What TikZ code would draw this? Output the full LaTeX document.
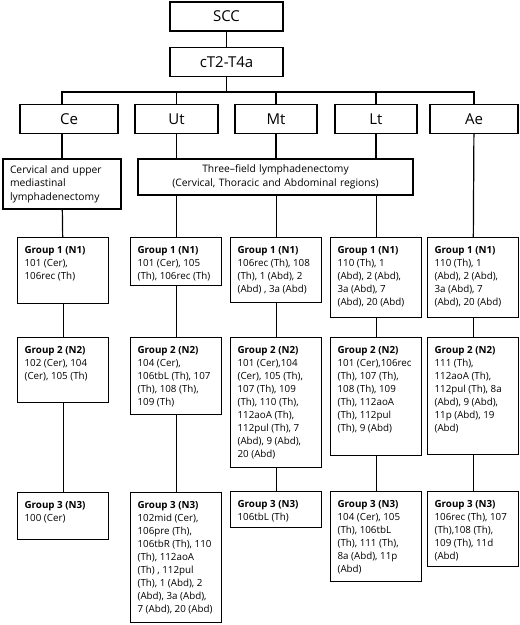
\documentclass[tikz,border=0pt]{standalone}
\usepackage{fontspec}
\setmainfont{Open Sans}
\usetikzlibrary{positioning}

\newcommand{\grpbox}[3]{\parbox[t][#1pt][t]{91pt}{\raggedright\leftskip=7pt
  \fontsize{9.8}{13}\selectfont\vspace*{8.5pt}\textbf{#2}\\#3}}

\begin{document}
\begin{tikzpicture}[x=1pt,y=-1pt,line width=1.2pt]
  \tikzstyle{hd}=[draw,font=\fontsize{15}{18}\selectfont,minimum height=29pt,inner sep=0pt]
  \tikzstyle{grp}=[draw,anchor=north west,inner sep=0pt]
  \tikzstyle{lym}=[draw,font=\fontsize{10.3}{13.5}\selectfont,inner xsep=7pt,inner ysep=0pt]

  \useasboundingbox (0,0) rectangle (520,625);

  \node[hd,minimum width=113pt] (scc) at (226.5,16.5) {SCC};
  \node[hd,minimum width=113pt,below=15pt of scc] (ct) {cT2-T4a};
  \coordinate (bar) at (226.5,92);

  \node[hd,minimum width=98pt] (ce) at (69,119)  {Ce};
  \node[hd,minimum width=83pt] (ut) at (176.5,119) {Ut};
  \node[hd,minimum width=82pt] (mt) at (276,119) {Mt};
  \node[hd,minimum width=82pt] (lt) at (376,119) {Lt};
  \node[hd,minimum width=88pt] (ae) at (474,119) {Ae};

  \node[lym,text width=104pt,align=left,minimum height=50pt] (lc) at (62,184)
    {Cervical and upper\\mediastinal\\lymphadenectomy};
  \node[lym,text width=261pt,align=center,minimum height=36pt] (tf) at (275.5,177)
    {Three–field lymphadenectomy\\(Cervical, Thoracic and Abdominal regions)};

  % group 1
  \node[grp] (ceg1) at (17,237)  {\grpbox{66}{Group 1 (N1)}{101 (Cer),\\106rec (Th)}};
  \node[grp] (utg1) at (130,237) {\grpbox{48}{Group 1 (N1)}{101 (Cer), 105\\(Th), 106rec (Th)}};
  \node[grp] (mtg1) at (230,237) {\grpbox{65}{Group 1 (N1)}{106rec (Th), 108\\(Th), 1 (Abd), 2\\(Abd) , 3a (Abd)}};
  \node[grp] (ltg1) at (330,237) {\grpbox{80}{Group 1 (N1)}{110 (Th), 1\\(Abd), 2 (Abd),\\3a (Abd), 7\\(Abd), 20 (Abd)}};
  \node[grp] (aeg1) at (427,237) {\grpbox{80}{Group 1 (N1)}{110 (Th), 1\\(Abd), 2 (Abd),\\3a (Abd), 7\\(Abd), 20 (Abd)}};

  % group 2
  \node[grp] (ceg2) at (17,337)  {\grpbox{65}{Group 2 (N2)}{102 (Cer), 104\\(Cer), 105 (Th)}};
  \node[grp] (utg2) at (130,337) {\grpbox{77}{Group 2 (N2)}{104 (Cer),\\106tbL (Th), 107\\(Th), 108 (Th),\\109 (Th)}};
  \node[grp] (mtg2) at (230,337) {\grpbox{130}{Group 2 (N2)}{101 (Cer),104\\(Cer), 105 (Th),\\107 (Th), 109\\(Th), 110 (Th),\\112aoA (Th),\\112pul (Th), 7\\(Abd), 9 (Abd),\\20 (Abd)}};
  \node[grp] (ltg2) at (330,337) {\grpbox{118}{Group 2 (N2)}{101 (Cer),106rec\\(Th), 107 (Th),\\108 (Th), 109\\(Th), 112aoA\\(Th), 112pul\\(Th), 9 (Abd)}};
  \node[grp] (aeg2) at (427,337) {\grpbox{117}{Group 2 (N2)}{111 (Th),\\112aoA (Th),\\112pul (Th), 8a\\(Abd), 9 (Abd),\\11p (Abd), 19\\(Abd)}};

  % group 3
  \node[grp] (ceg3) at (17,492)  {\grpbox{47}{Group 3 (N3)}{100 (Cer)}};
  \node[grp] (utg3) at (130,492) {\grpbox{130}{Group 3 (N3)}{102mid (Cer),\\106pre (Th),\\106tbR (Th), 110\\(Th), 112aoA\\(Th) , 112pul\\(Th), 1 (Abd), 2\\(Abd), 3a (Abd),\\7 (Abd), 20 (Abd)}};
  \node[grp] (mtg3) at (230,491) {\grpbox{36}{Group 3 (N3)}{106tbL (Th)}};
  \node[grp] (ltg3) at (330,491) {\grpbox{90}{Group 3 (N3)}{104 (Cer), 105\\(Th), 106tbL\\(Th), 111 (Th),\\8a (Abd), 11p\\(Abd)}};
  \node[grp] (aeg3) at (427,491) {\grpbox{75}{Group 3 (N3)}{106rec (Th), 107\\(Th),108 (Th),\\109 (Th), 11d\\(Abd)}};

  \draw (scc) -- (ct);
  \draw (ct) -- (bar);
  \draw (lc |- ce.north) |- (bar) -| (ae);
  \draw (bar) -| (ut);
  \draw (bar) -| (mt);
  \draw (bar) -| (lt);

  \draw (lc |- ce.south) -- (lc);
  \draw (ut) -- (ut |- tf.north);
  \draw (mt) -- (mt |- tf.north);
  \draw (lt) -- (lt |- tf.north);
  \draw (ae) -- (aeg1);

  \draw (lc) -- (ceg1);
  \draw (utg1 |- tf.south) -- (utg1);
  \draw (mtg1 |- tf.south) -- (mtg1);
  \draw (ltg1 |- tf.south) -- (ltg1);

  \foreach \c in {ce,ut,mt,lt,ae} {
    \draw (\c g1) -- (\c g2);
    \draw (\c g2) -- (\c g3);
  }
\end{tikzpicture}
\end{document}
